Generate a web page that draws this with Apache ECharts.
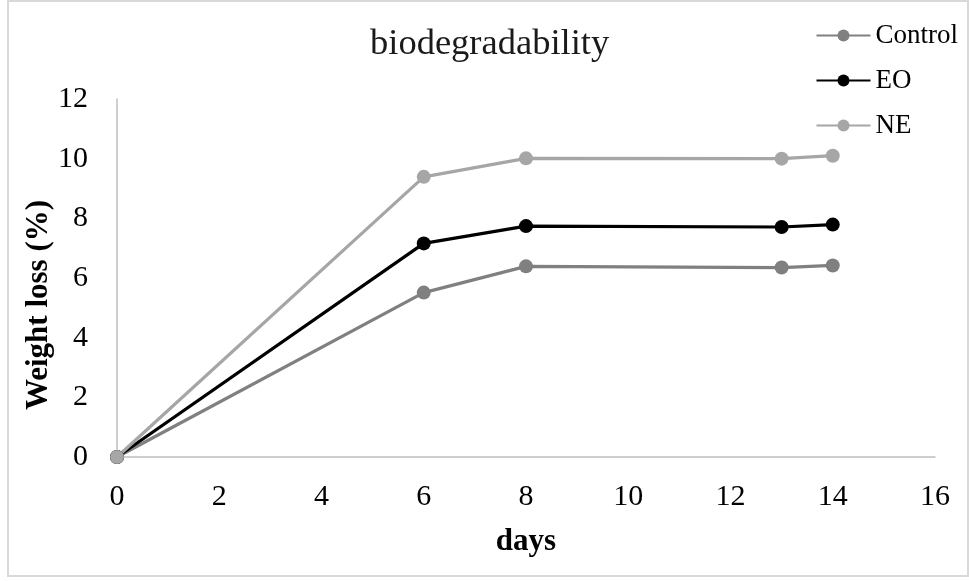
<!DOCTYPE html>
<html>
<head>
<meta charset="utf-8">
<script src="https://cdn.jsdelivr.net/npm/echarts@6/dist/echarts.min.js"></script>
<style>
html,body{margin:0;padding:0;background:#fff;}
#chart{width:969px;height:581px;}
</style>
</head>
<body>
<div id="chart"></div>
<script>
const days = [0, 6, 8, 13, 14];
const control = [0, 5.51, 6.39, 6.35, 6.42];
const eo = [0, 7.16, 7.74, 7.71, 7.79];
const ne = [0, 9.39, 10.01, 10.0, 10.1];
const seriesNames = ['Control', 'EO', 'NE'];
const seriesColors = ['#808080', '#000000', '#a6a6a6'];
const titleText = 'biodegradability';
const xName = 'days';
const yName = 'Weight loss (%)';

const FONT = "'Liberation Serif', 'Times New Roman', serif";
const values = [control, eo, ne];

const chart = echarts.init(document.getElementById('chart'));
chart.setOption({
  animation: false,
  backgroundColor: '#fff',
  title: {
    text: titleText,
    left: 365,
    top: 21,
    textStyle: { fontFamily: FONT, fontSize: 36.5, fontWeight: 'normal', color: '#1a1a1a' }
  },
  legend: {
    orient: 'vertical',
    right: 6, top: 17,
    itemWidth: 54, itemHeight: 15, itemGap: 18,
    textStyle: { fontFamily: FONT, fontSize: 27, color: '#000' },
    data: seriesNames
  },
  graphic: [{
    type: 'rect', z: -1,
    shape: { x: 8, y: 1, width: 960, height: 575 },
    style: { fill: 'none', stroke: '#d9d9d9', lineWidth: 2 }
  }],
  grid: { left: 117, right: 34, top: 99, bottom: 124, containLabel: false },
  xAxis: {
    type: 'value', min: 0, max: 16, interval: 2,
    name: xName, nameLocation: 'middle', nameGap: 69,
    nameTextStyle: { fontFamily: FONT, fontSize: 31, fontWeight: 'bold', color: '#000' },
    axisLine: { show: true, onZero: false, lineStyle: { color: '#bfbfbf', width: 1.5 } },
    axisTick: { show: false },
    splitLine: { show: false },
    axisLabel: { fontFamily: FONT, fontSize: 30, color: '#000', margin: 25 }
  },
  yAxis: {
    type: 'value', min: 0, max: 12, interval: 2,
    name: yName, nameLocation: 'middle', nameGap: 63, nameMoveOverlap: false,
    nameTextStyle: { fontFamily: FONT, fontSize: 31, fontWeight: 'bold', color: '#000', padding: [0, 54, 0, 0] },
    axisLine: { show: true, lineStyle: { color: '#bfbfbf', width: 1.5 } },
    axisTick: { show: false },
    splitLine: { show: false },
    axisLabel: { fontFamily: FONT, fontSize: 30, color: '#000', margin: 29 }
  },
  series: seriesNames.map((n, i) => ({
    name: n,
    type: 'line',
    data: days.map((d, j) => [d, values[i][j]]),
    symbol: 'circle', symbolSize: 14,
    showAllSymbol: true,
    lineStyle: { color: seriesColors[i], width: 3.2 },
    itemStyle: { color: seriesColors[i] },
    emphasis: { disabled: true }
  }))
});
</script>
</body>
</html>
